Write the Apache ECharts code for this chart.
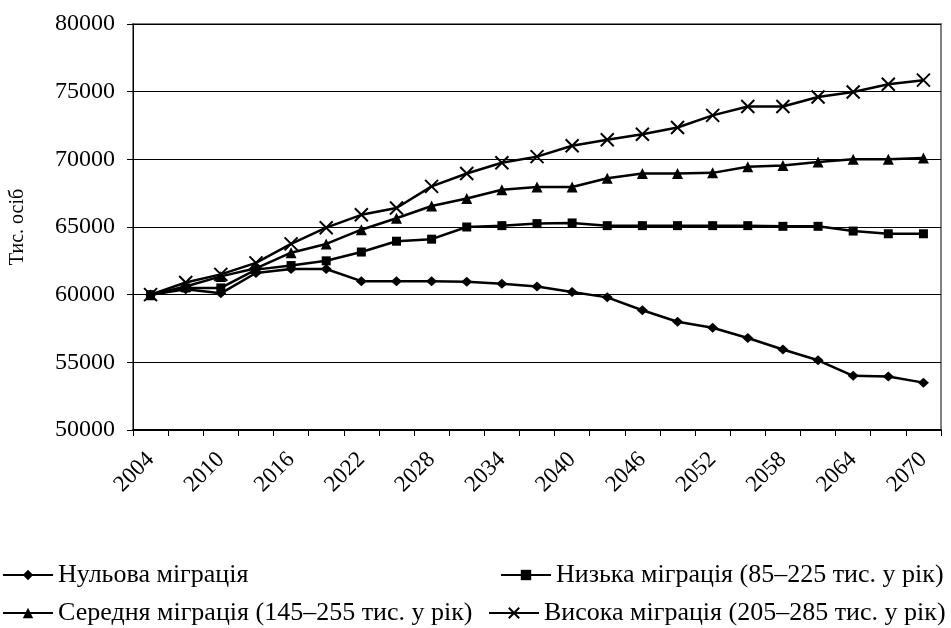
<!DOCTYPE html>
<html>
<head>
<meta charset="utf-8">
<script src="https://cdn.jsdelivr.net/npm/echarts@6/dist/echarts.min.js"></script>
<style>
html,body{margin:0;padding:0;background:#fff;}
#chart{width:951px;height:628px;}
</style>
</head>
<body>
<div id="chart"></div>
<script>
const categories = ['2004','2007','2010','2013','2016','2019','2022','2025','2028','2031','2034','2037','2040','2043','2046','2049','2052','2055','2058','2061','2064','2067','2070'];
const seriesNames = ['Нульова міграція','Низька міграція (85–225 тис. у рік)','Середня міграція (145–255 тис. у рік)','Висока міграція (205–285 тис. у рік)'];
const zeroMigration = [60000,60400,60100,61600,61900,61900,61000,61000,61000,60950,60800,60600,60200,59800,58850,58000,57550,56800,55950,55150,54000,53950,53500];
const lowMigration = [60000,60500,60500,61850,62150,62500,63150,63950,64100,65000,65100,65250,65300,65100,65100,65100,65100,65100,65050,65050,64700,64500,64500];
const midMigration = [60000,60600,61350,61950,63100,63750,64800,65650,66550,67100,67750,67950,67950,68600,68950,68950,69000,69450,69550,69800,70000,70000,70100];
const highMigration = [60000,60900,61500,62350,63750,64950,65900,66400,68000,68950,69750,70200,71000,71450,71850,72350,73250,73900,73900,74600,74980,75550,75850];
const yAxisName = 'Тис. осіб';

const FONT = 'Liberation Serif';
const chart = echarts.init(document.getElementById('chart'), null, {renderer:'canvas'});
function lineSeries(name, data, symbol, size, extra) {
  return Object.assign({
    name: name, type: 'line', data: data,
    symbol: symbol, symbolSize: size,
    lineStyle: {color:'#000', width: 2.5},
    itemStyle: {color:'#000'},
    emphasis: {disabled: true},
    animation: false
  }, extra || {});
}
function legendItem(name, left, top) {
  return {data: [name], orient: 'horizontal', left: left, top: top, itemWidth: 50, itemHeight: 13,
    padding: 0, textStyle: {color:'#000', fontFamily: FONT, fontSize: 26}};
}
const option = {
  backgroundColor: '#fff',
  animation: false,
  grid: {left: 131, right: 10, top: 24, bottom: 198, show: true, borderColor: '#808080', borderWidth: 2, backgroundColor: 'transparent'},
  xAxis: {
    type: 'category', data: categories, boundaryGap: true,
    axisLine: {lineStyle: {color: '#000', width: 2}},
    axisTick: {show: true, interval: 0, length: 6, lineStyle: {color:'#000', width: 1}},
    axisLabel: {interval: 1, rotate: 45, margin: 26, color: '#000', fontFamily: FONT, fontSize: 23},
    splitLine: {show: false}
  },
  yAxis: {
    type: 'value', min: 50000, max: 80000, interval: 5000,
    name: yAxisName, nameLocation: 'middle', nameRotate: 90, nameGap: 105,
    nameTextStyle: {color:'#000', fontFamily: FONT, fontSize: 20},
    axisLine: {show: true, lineStyle: {color:'#000', width: 1}},
    axisTick: {show: true, length: 6, lineStyle: {color:'#000'}},
    axisLabel: {margin: 18, color:'#000', fontFamily: FONT, fontSize: 24, formatter: function (v) { return String(v); }},
    splitLine: {show: true, lineStyle: {color:'#000', width: 1}}
  },
  legend: [
    legendItem(seriesNames[0], 2, 562),
    legendItem(seriesNames[2], 2, 600),
    legendItem(seriesNames[1], 500, 562),
    legendItem(seriesNames[3], 488, 600)
  ],
  series: [
    lineSeries(seriesNames[0], zeroMigration, 'diamond', [11,10]),
    lineSeries(seriesNames[1], lowMigration, 'rect', 9),
    lineSeries(seriesNames[2], midMigration, 'triangle', 11),
    lineSeries(seriesNames[3], highMigration, 'path://M0,0L10,10M10,0L0,10', 13,
      {itemStyle: {color: 'rgba(0,0,0,0)', borderColor: '#000', borderWidth: 2}})
  ]
};
chart.setOption(option);
</script>
</body>
</html>
